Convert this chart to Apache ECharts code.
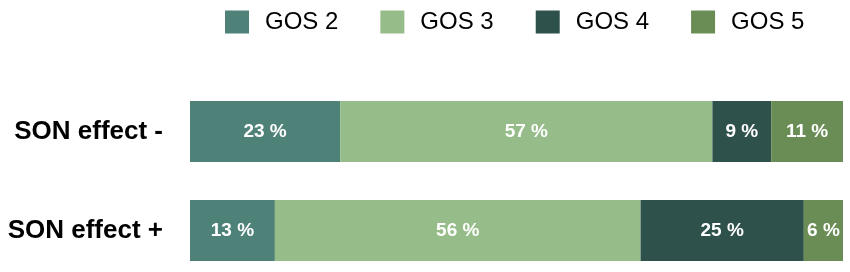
<!DOCTYPE html>
<html>
<head>
<meta charset="utf-8">
<script src="https://cdn.jsdelivr.net/npm/echarts@6/dist/echarts.min.js"></script>
<style>
  html, body { margin: 0; padding: 0; background: #fff; }
  #chart { width: 850px; height: 272px; }
</style>
</head>
<body>
<div id="chart"></div>
<script>
// data
const categories = ['SON effect -', 'SON effect +']
const gos2 = [23, 13]
const gos3 = [57, 56]
const gos4 = [9, 25]
const gos5 = [11, 6]

const seriesNames = ['GOS 2', 'GOS 3', 'GOS 4', 'GOS 5']
const seriesData = [gos2, gos3, gos4, gos5]
const colors = ['#4e8279', '#96bd89', '#2e514c', '#6a8d55']

const chart = echarts.init(document.getElementById('chart'))

const option = {
  animation: false,
  legend: {
    top: 5,
    left: 220,
    itemWidth: 24,
    itemHeight: 23,
    itemGap: 42,
    icon: 'rect',
    textStyle: {
      fontFamily: 'Liberation Sans',
      fontSize: 24,
      color: '#000',
      padding: [0, 0, 0, 11]
    },
    data: seriesNames
  },
  grid: {
    left: 190,
    right: 7,
    top: 82,
    bottom: -8,
    outerBoundsMode: 'none'
  },
  xAxis: {
    type: 'value',
    min: 0,
    max: 100,
    show: false
  },
  yAxis: {
    type: 'category',
    inverse: true,
    data: categories,
    axisLine: { show: false },
    axisTick: { show: false },
    axisLabel: {
      margin: 27,
      fontFamily: 'Liberation Sans',
      fontWeight: 'bold',
      fontSize: 26,
      color: '#000'
    }
  },
  series: seriesNames.map((name, i) => ({
    name,
    type: 'bar',
    stack: 'total',
    barWidth: 61,
    itemStyle: { color: colors[i] },
    label: {
      show: true,
      position: 'inside',
      formatter: p => p.value + ' %',
      fontFamily: 'Liberation Sans',
      fontWeight: 'bold',
      fontSize: 19,
      color: '#fff'
    },
    data: seriesData[i]
  }))
}

chart.setOption(option)
</script>
</body>
</html>
